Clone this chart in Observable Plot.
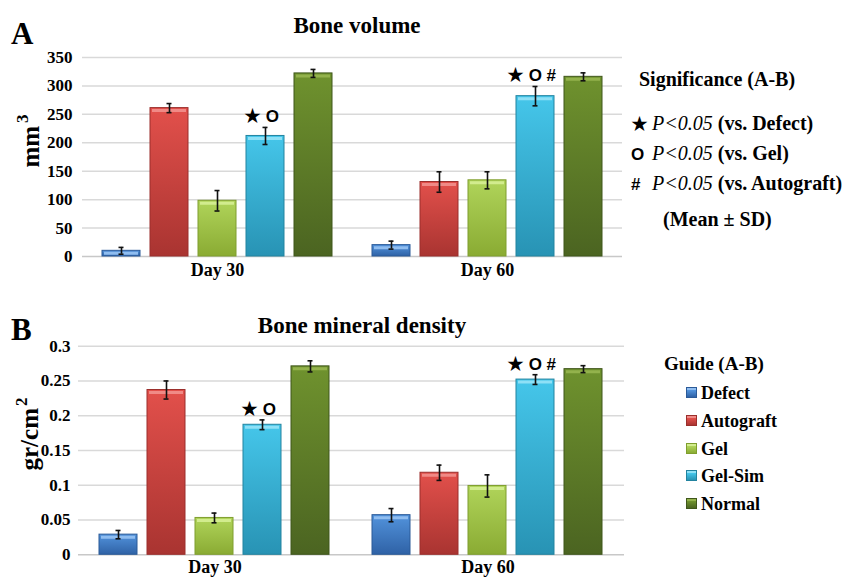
<!DOCTYPE html>
<html><head><meta charset="utf-8">
<script src="https://cdn.jsdelivr.net/npm/d3@7"></script>
<script src="https://cdn.jsdelivr.net/npm/@observablehq/plot@0.6"></script>
<style>
body{margin:0;background:#fff;}
#root{position:relative;width:842px;height:578px;overflow:hidden;font-family:"Liberation Serif","Times New Roman",serif;color:#000;background:#fff;}
.abs{position:absolute;white-space:nowrap;line-height:1;font-family:"Liberation Serif","Times New Roman",serif;}
.plot{position:absolute;left:0;}
.sym{font-family:"Liberation Sans","Noto Sans CJK SC",sans-serif;font-weight:bold;font-size:17px;display:inline-block;width:21px;}
.it{font-style:italic;font-weight:normal;}
</style></head><body><div id="root"></div>
<script>
// ---- data ----
const groups = ["Defect", "Autograft", "Gel", "Gel-Sim", "Normal"];
const days = ["Day 30", "Day 60"];
const volumeMean30 = [10, 261, 98, 212, 322];
const volumeSD30 = [6, 8, 18, 15, 7];
const volumeMean60 = [20, 131, 134, 282, 316];
const volumeSD60 = [7, 18, 15, 17, 7];
const densityMean30 = [0.029, 0.237, 0.053, 0.187, 0.271];
const densitySD30 = [0.006, 0.013, 0.007, 0.007, 0.008];
const densityMean60 = [0.057, 0.118, 0.099, 0.252, 0.267];
const densitySD60 = [0.0095, 0.011, 0.016, 0.007, 0.005];
const volumeTicks = [0, 50, 100, 150, 200, 250, 300, 350];
const densityTicks = [0, 0.05, 0.1, 0.15, 0.2, 0.25, 0.3];
const densityTickLabels = ["0", "0.05", "0.1", "0.15", "0.2", "0.25", "0.3"];
const notesVolume = [{day: "Day 30", group: "Gel-Sim", label: "★ O"}, {day: "Day 60", group: "Gel-Sim", label: "★ O #"}];
const notesDensity = [{day: "Day 30", group: "Gel-Sim", label: "★ O"}, {day: "Day 60", group: "Gel-Sim", label: "★ O #"}];
const significanceItems = [["★", "(vs. Defect)"], ["O", "(vs. Gel)"], ["#", "(vs. Autograft)"]];

// ---- styles ----
const colorTop = ["#5293dc", "#e2504b", "#b0d45a", "#45c6ea", "#6f922e"];
const colorBottom = ["#2f62a6", "#a93431", "#8aab33", "#2893b4", "#4b6421"];
const colorHi = ["#8fbdf0", "#f08a86", "#d2ec8e", "#8ee0f6", "#93b24c"];
const colorStroke = ["#2b5a98", "#9b2f2c", "#7f9e2e", "#22839f", "#3f561b"];

const root = document.getElementById("root");
function addDiv(html, css) {
  const d = document.createElement("div");
  d.className = "abs";
  d.innerHTML = html;
  Object.assign(d.style, css);
  root.appendChild(d);
  return d;
}

function panel(opts) {
  const {id, m30, s30, m60, s60, ticks, tickLabels, domain, top, height, marginLeft, marginRight, marginTop, marginBottom, tickPadding, fxPadding, notes} = opts;
  const data = [];
  groups.forEach((g, i) => data.push({day: days[0], group: g, i, v: m30[i], sd: s30[i]}));
  groups.forEach((g, i) => data.push({day: days[1], group: g, i, v: m60[i], sd: s60[i]}));
  const noteData = notes.map(n => {
    const d = data.find(e => e.day === n.day && e.group === n.group);
    return {...n, y: d.v + d.sd};
  });
  const svg = Plot.plot({
    width: 842, height, marginLeft, marginRight, marginTop, marginBottom,
    style: {fontFamily: "'Liberation Serif','Times New Roman',serif", fontWeight: "bold", background: "transparent", overflow: "visible"},
    fx: {domain: days, padding: 0, label: null},
    x: {domain: groups, paddingInner: 0.2, paddingOuter: 0.39, axis: null},
    y: {domain, label: null, axis: null},
    color: {type: "identity"},
    marks: [
      Plot.ruleY(ticks.slice(1), {stroke: "#d9d9d9", strokeWidth: 1.5}),
      Plot.ruleY([0], {stroke: "#c8c8c8", strokeWidth: 1.5}),
      Plot.axisY({ticks, tickSize: 0, tickPadding, fontSize: 17, fontWeight: "bold", label: null,
        tickFormat: (t) => tickLabels ? tickLabels[ticks.indexOf(t)] : String(t)}),
      Plot.axisFx({anchor: "bottom", tickSize: 0, tickPadding: fxPadding, fontSize: 18, fontWeight: "bold", label: null}),
      Plot.barY(data, {x: "group", fx: "day", y: "v", fill: d => `url(#${id}-g${d.i})`, stroke: d => colorStroke[d.i], strokeWidth: 1}),
      Plot.tickY(data, {x: "group", fx: "day", y: "v", stroke: d => colorHi[d.i], strokeWidth: 3, dy: 2.5, inset: 2}),
      Plot.ruleX(data, {x: "group", fx: "day", y1: d => d.v - d.sd, y2: d => d.v + d.sd, stroke: "#111", strokeWidth: 1.6}),
      Plot.tickY(data, {x: "group", fx: "day", y: d => d.v + d.sd, stroke: "#111", strokeWidth: 1.6, inset: 16.5}),
      Plot.tickY(data, {x: "group", fx: "day", y: d => d.v - d.sd, stroke: "#111", strokeWidth: 1.6, inset: 16.5}),
      Plot.text(noteData, {x: "group", fx: "day", y: "y", text: "label", lineAnchor: "bottom", dy: -5, dx: -4,
        fontFamily: "'Liberation Sans','Noto Sans CJK SC',sans-serif", fontSize: 17, fontWeight: "bold", fill: "#000"})
    ]
  });
  const defs = d3.select(svg).insert("defs", ":first-child");
  groups.forEach((g, i) => {
    const lg = defs.append("linearGradient").attr("id", `${id}-g${i}`)
      .attr("x1", 0).attr("y1", 0).attr("x2", 0).attr("y2", 1);
    lg.append("stop").attr("offset", "0%").attr("stop-color", colorTop[i]);
    lg.append("stop").attr("offset", "100%").attr("stop-color", colorBottom[i]);
  });
  const wrap = document.createElement("div");
  wrap.className = "plot";
  wrap.style.top = top + "px";
  wrap.appendChild(svg);
  root.appendChild(wrap);
}

panel({id: "pa", m30: volumeMean30, s30: volumeSD30, m60: volumeMean60, s60: volumeSD60,
  ticks: volumeTicks, tickLabels: null, domain: [0, 350], top: 0, height: 290,
  marginLeft: 82, marginRight: 220, marginTop: 57, marginBottom: 34, tickPadding: 10, fxPadding: 7, notes: notesVolume});
panel({id: "pb", m30: densityMean30, s30: densitySD30, m60: densityMean60, s60: densitySD60,
  ticks: densityTicks, tickLabels: densityTickLabels, domain: [0, 0.3], top: 290, height: 288,
  marginLeft: 78, marginRight: 218, marginTop: 55.7, marginBottom: 23.7, tickPadding: 8, fxPadding: 5, notes: notesDensity});

// ---- text ----
addDiv("A", {left: "11px", top: "18px", fontSize: "31px", fontWeight: "bold"});
addDiv("B", {left: "11px", top: "314px", fontSize: "31px", fontWeight: "bold"});
addDiv("Bone volume", {left: "357px", top: "25px", fontSize: "23px", fontWeight: "bold", transform: "translate(-50%,-50%)"});
addDiv("Bone mineral density", {left: "362px", top: "325px", fontSize: "23px", fontWeight: "bold", transform: "translate(-50%,-50%)"});
addDiv("mm<span style='font-size:17px;vertical-align:11px;margin-left:3px'>3</span>", {left: "28px", top: "141px", fontSize: "25px", fontWeight: "bold", transform: "translate(-50%,-50%) rotate(-90deg)"});
addDiv("gr/cm<span style='font-size:17px;vertical-align:11px;margin-left:2px'>2</span>", {left: "27px", top: "434px", fontSize: "25px", fontWeight: "bold", transform: "translate(-50%,-50%) rotate(-90deg)"});

addDiv("Significance (A-B)", {left: "639px", top: "79px", fontSize: "20px", fontWeight: "bold", transform: "translateY(-50%)"});
significanceItems.forEach(([s, t], k) => {
  addDiv(`<span class="sym">${s}</span><span class="it">P&lt;0.05</span> ${t}`,
    {left: "631px", top: (123 + 30 * k) + "px", fontSize: "20px", fontWeight: "bold", transform: "translateY(-50%)"});
});
addDiv("(Mean ± SD)", {left: "663px", top: "219px", fontSize: "20px", fontWeight: "bold", transform: "translateY(-50%)"});

addDiv("Guide (A-B)", {left: "664px", top: "363px", fontSize: "19px", fontWeight: "bold", transform: "translateY(-50%)"});
groups.forEach((g, i) => {
  addDiv(`<span style="display:inline-block;width:9px;height:9px;margin-right:4px;vertical-align:1px;border:1px solid ${colorStroke[i]};background:linear-gradient(${colorHi[i]} 0 25%, ${colorTop[i]} 25%, ${colorBottom[i]})"></span>${g}`,
    {left: "686px", top: (393 + 27.8 * i) + "px", fontSize: "18px", fontWeight: "bold", transform: "translateY(-50%)"});
});
</script></body></html>
